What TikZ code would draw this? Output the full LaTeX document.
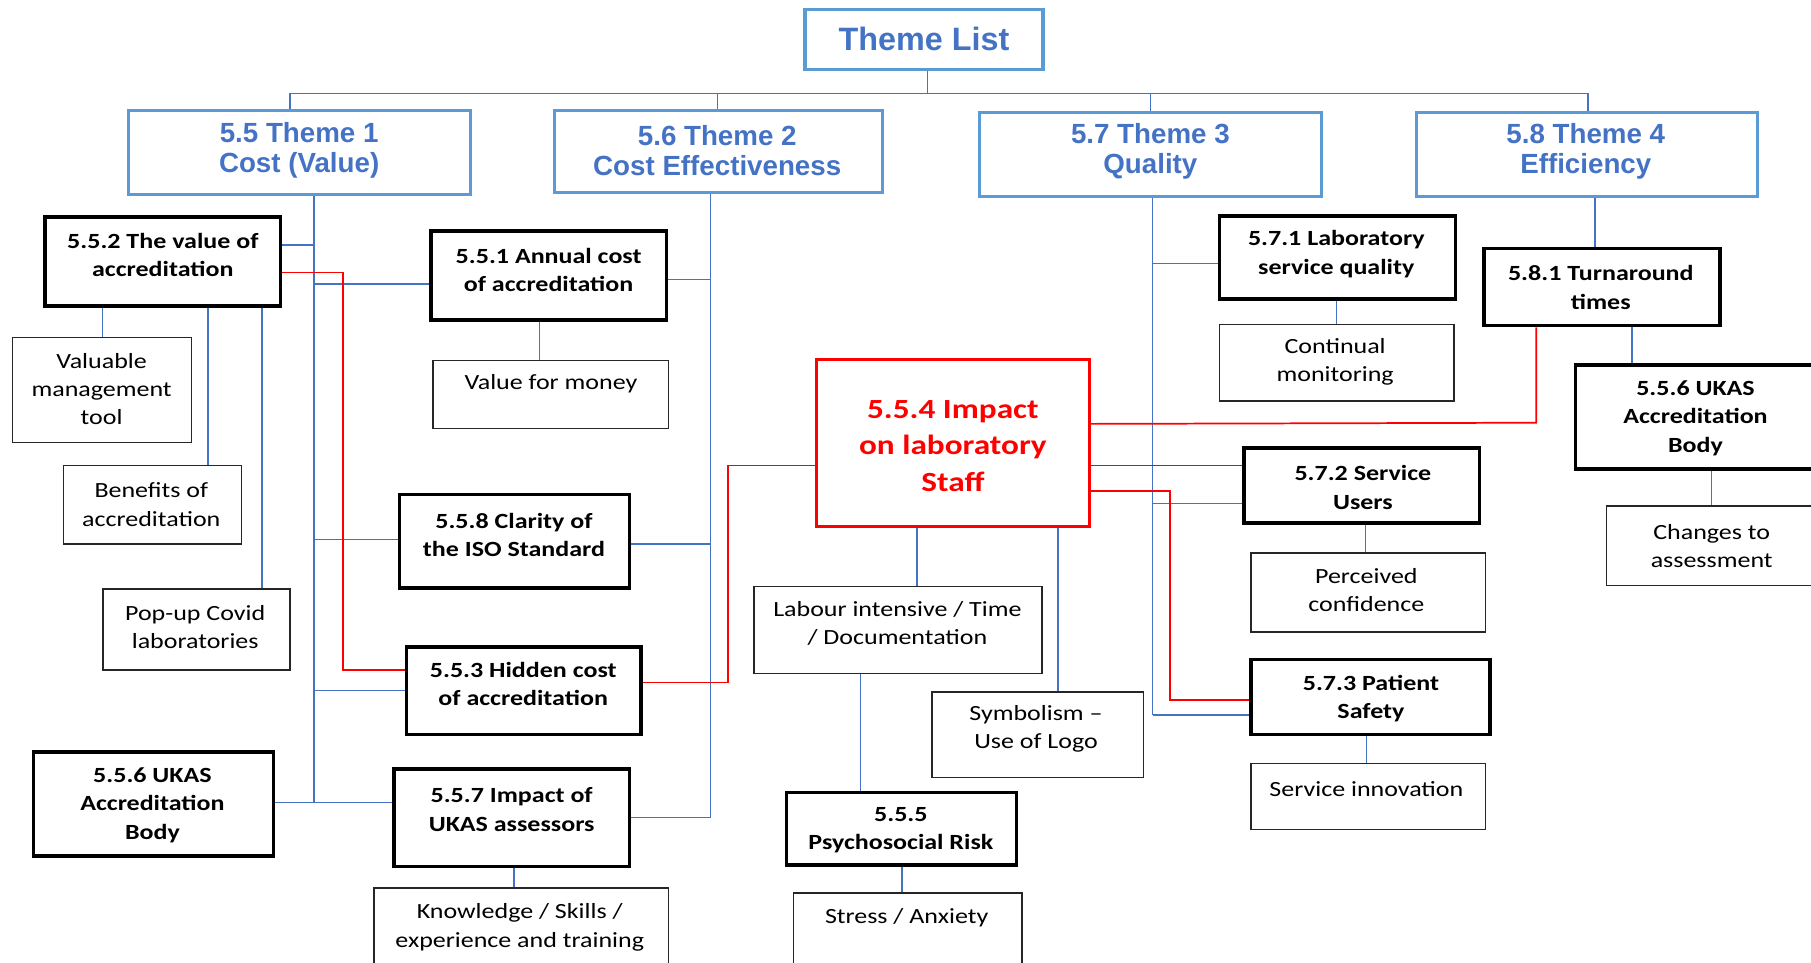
\documentclass[tikz,border=0pt]{standalone}
\usepackage{fontspec}
\setmainfont{Carlito}[FakeStretch=1.2]
\newfontfamily\arialfam{Liberation Sans}
\usetikzlibrary{fit}
\definecolor{lnblue}{RGB}{68,114,196}
\definecolor{bdblue}{RGB}{91,155,213}
\definecolor{thblue}{RGB}{68,114,196}
\tikzset{
  bbox/.style={draw=black, line width=3pt, inner sep=0pt},
  tbox/.style={draw=black!85, line width=1.3pt, inner sep=0pt},
  thbox/.style={draw=bdblue, line width=2.6pt, inner sep=0pt},
  rbox/.style={draw=red, line width=2.6pt, inner sep=0pt},
  btxt/.style={font=\fontsize{18.75}{24.5}\selectfont\bfseries, align=center, inner sep=0pt},
  rtxt/.style={font=\fontsize{18.75}{24.5}\selectfont, align=center, inner sep=0pt},
  thtxt/.style={font=\arialfam\bfseries\fontsize{24}{26}\selectfont, text=thblue, align=center, inner sep=0pt},
  redtxt/.style={font=\fontsize{24}{31.5}\selectfont\bfseries, text=red, align=center, inner sep=0pt},
  bl/.style={draw=lnblue, line width=1.2pt},
  rl/.style={draw=red, line width=1.5pt},
}
\begin{document}
\begin{tikzpicture}[x=1pt,y=-1pt]
\useasboundingbox (0,0) rectangle (1568,833);
% ---------- top level
\node[thbox, line width=3pt, fit={(697,8) (903,60)}] (tl) {};
\node[font=\arialfam\bfseries\fontsize{28}{28}\selectfont, text=thblue, inner sep=0pt] (tltxt) at (800,34) {Theme List};
\node[thbox, fit={(111,96) (407,168)}] (th1) {};
\node[thtxt] (th1t) at (259,130) {5.5 Theme 1\\Cost (Value)};
\node[thbox, fit={(480,96) (764,167)}] (th2) {};
\node[thtxt] (th2t) at (621,130) {5.6 Theme 2\\Cost Effectiveness};
\node[thbox, fit={(848,97) (1144,170)}] (th3) {};
\node[thtxt] (th3t) at (996,131) {5.7 Theme 3\\Quality};
\node[thbox, fit={(1226,97) (1522,170)}] (th4) {};
\node[thtxt] (th4t) at (1373,131) {5.8 Theme 4\\Efficiency};
% ---------- bold boxes
\node[bbox, fit={(39,188) (243,265)}] (n552) {};
\node[btxt] (n552t) at (141,221) {5.5.2 The value of\\accreditation};
\node[bbox, fit={(373,200) (577,277)}] (n551) {};
\node[btxt] (n551t) at (475,234) {5.5.1 Annual cost\\of accreditation};
\node[bbox, fit={(346,428) (545,509)}] (n558) {};
\node[btxt] (n558t) at (445,463) {5.5.8 Clarity of\\the ISO Standard};
\node[bbox, fit={(352,560) (555,636)}] (n553) {};
\node[btxt] (n553t) at (453,592) {5.5.3 Hidden cost\\of accreditation};
\node[bbox, fit={(341,666) (545,750)}] (n557) {};
\node[btxt] (n557t) at (443,701) {5.5.7 Impact of\\UKAS assessors};
\node[bbox, fit={(29,651) (237,741)}] (n556l) {};
\node[btxt] (n556lt) at (132,697) {5.5.6 UKAS\\Accreditation\\Body};
\node[bbox, fit={(1056,187) (1260,259)}] (n571) {};
\node[btxt] (n571t) at (1157,220) {5.7.1 Laboratory\\service quality};
\node[bbox, fit={(1285,215) (1489,282)}] (n581) {};
\node[btxt] (n581t) at (1386,249) {5.8.1 Turnaround\\times};
\node[bbox, fit={(1364,316) (1585,406)}] (n556r) {};
\node[btxt] (n556rt) at (1468,362) {5.5.6 UKAS\\Accreditation\\Body};
\node[bbox, fit={(1077,388) (1281,453)}] (n572) {};
\node[btxt] (n572t) at (1180,422) {5.7.2 Service\\Users};
\node[bbox, fit={(1083,571) (1290,636)}] (n573) {};
\node[btxt] (n573t) at (1187,605) {5.7.3 Patient\\Safety};
\node[bbox, fit={(681,686) (880,749)}] (n555) {};
\node[btxt] (n555t) at (780,719) {5.5.5\\Psychosocial Risk};
% ---------- red box
\node[rbox, fit={(707,311) (943,456)}] (n554) {};
\node[redtxt] (n554t) at (825,386) {5.5.4 Impact\\on laboratory\\Staff};
% ---------- thin boxes
\node[tbox, fit={(11,292) (166,383)}] (vmt) {};
\node[rtxt] (vmtt) at (88,337) {Valuable\\management\\tool};
\node[tbox, fit={(55,403) (209,471)}] (boa) {};
\node[rtxt] (boat) at (131,437) {Benefits of\\accreditation};
\node[tbox, fit={(89,510) (251,580)}] (pcl) {};
\node[rtxt] (pclt) at (169,543) {Pop-up Covid\\laboratories};
\node[tbox, fit={(375,312) (579,371)}] (vfm) {};
\node[rtxt] (vfmt) at (477,332) {Value for money};
\node[tbox, fit={(324,769) (579,845)}] (kse) {};
\node[rtxt] (kset) at (450,803) {Knowledge / Skills /\\experience and training};
\node[tbox, fit={(653,508) (902,583)}] (lit) {};
\node[rtxt] (litt) at (777,540) {Labour intensive / Time\\/ Documentation};
\node[tbox, fit={(807,599) (990,673)}] (sym) {};
\node[rtxt] (symt) at (897,631) {Symbolism –\\Use of Logo};
\node[tbox, fit={(687,773) (885,845)}] (sa) {};
\node[rtxt] (sat) at (785,795) {Stress / Anxiety};
\node[tbox, fit={(1056,281) (1259,347)}] (cm) {};
\node[rtxt] (cmt) at (1156,313) {Continual\\monitoring};
\node[tbox, fit={(1083,479) (1286,547)}] (pc) {};
\node[rtxt] (pct) at (1183,511) {Perceived\\confidence};
\node[tbox, fit={(1083,661) (1286,718)}] (si) {};
\node[rtxt] (sit) at (1183,683) {Service innovation};
\node[tbox, fit={(1391,438) (1585,507)}] (cta) {};
\node[rtxt] (ctat) at (1482,473) {Changes to\\assessment};
% ---------- trunk coordinates
\coordinate (bus) at (803,81);
\coordinate (t1) at (272,695);
\coordinate (t2) at (615,708);
\coordinate (t3) at (998,619);
% ---------- top bus
\draw[bl] (tl.south -| bus) -- (bus);
\draw[bl] (th1.north -| 251,0) -- (251,81) -- (1375,81) -- (th4.north -| 1375,0);
\draw[bl] (th2.north -| 621,0) -- (621,81);
\draw[bl] (th3.north -| 996,0) -- (996,81);
% ---------- theme 1 trunk
\draw[bl] (th1.south -| t1) -- (t1);
\draw[bl] (n552.east |- 0,212) -- (t1 |- 0,212);
\draw[bl] (t1 |- 0,246) -- (n551.west |- 0,246);
\draw[bl] (t1 |- 0,467) -- (n558.west |- 0,467);
\draw[bl] (t1 |- 0,598) -- (n553.west |- 0,598);
\draw[bl] (n556l.east |- t1) -- (n557.west |- t1);
% ---------- theme 2 trunk
\draw[bl] (th2.south -| t2) -- (t2);
\draw[bl] (n551.east |- 0,242) -- (t2 |- 0,242);
\draw[bl] (n558.east |- 0,471) -- (t2 |- 0,471);
\draw[bl] (n557.east |- t2) -- (t2);
% ---------- children
\draw[bl] (n552.south -| 89,0) -- (vmt.north -| 89,0);
\draw[bl] (n552.south -| 180,0) -- (boa.north -| 180,0);
\draw[bl] (n552.south -| 227,0) -- (pcl.north -| 227,0);
\draw[bl] (n551.south -| 467,0) -- (vfm.north -| 467,0);
\draw[bl] (n557.south -| 445,0) -- (kse.north -| 445,0);
\draw[bl] (n554.south -| 794,0) -- (lit.north -| 794,0);
\draw[bl] (n554.south -| 916,0) -- (sym.north -| 916,0);
\draw[bl] (lit.south -| 745,0) -- (n555.north -| 745,0);
\draw[bl] (n555.south -| 781,0) -- (sa.north -| 781,0);
% ---------- theme 3 trunk
\draw[bl] (th3.south -| t3) -- (t3);
\draw[bl] (t3 |- 0,228) -- (n571.west |- 0,228);
\draw[bl] (t3 |- 0,436) -- (n572.west |- 0,436);
\draw[bl] (t3) -- (n573.west |- t3);
\draw[bl] (n571.south -| 1157,0) -- (cm.north -| 1157,0);
\draw[bl] (n572.south -| 1182,0) -- (pc.north -| 1182,0);
\draw[bl] (n573.south -| 1183,0) -- (si.north -| 1183,0);
% ---------- theme 4
\draw[bl] (th4.south -| 1381,0) -- (n581.north -| 1381,0);
\draw[bl] (n581.south -| 1413,0) -- (n556r.north -| 1413,0);
\draw[bl] (n556r.south -| 1482,0) -- (cta.north -| 1482,0);
% ---------- red connectors
\draw[rl] (n552.east |- 0,236) -- (297,236) -- (297,580) -- (n553.west |- 0,580);
\draw[rl] (n553.east |- 0,591) -- (630,591) -- (630,403) -- (n554.west |- 0,403);
\draw[rl] (n554.east |- 0,367) -- (1330,366) -- (n581.south -| 1330,0);
\draw[rl] (n554.east |- 0,403) -- (n572.west |- 0,403);
\draw[rl] (n554.east |- 0,425) -- (1013,425) -- (1013,606) -- (n573.west |- 0,606);
\end{tikzpicture}
\end{document}
